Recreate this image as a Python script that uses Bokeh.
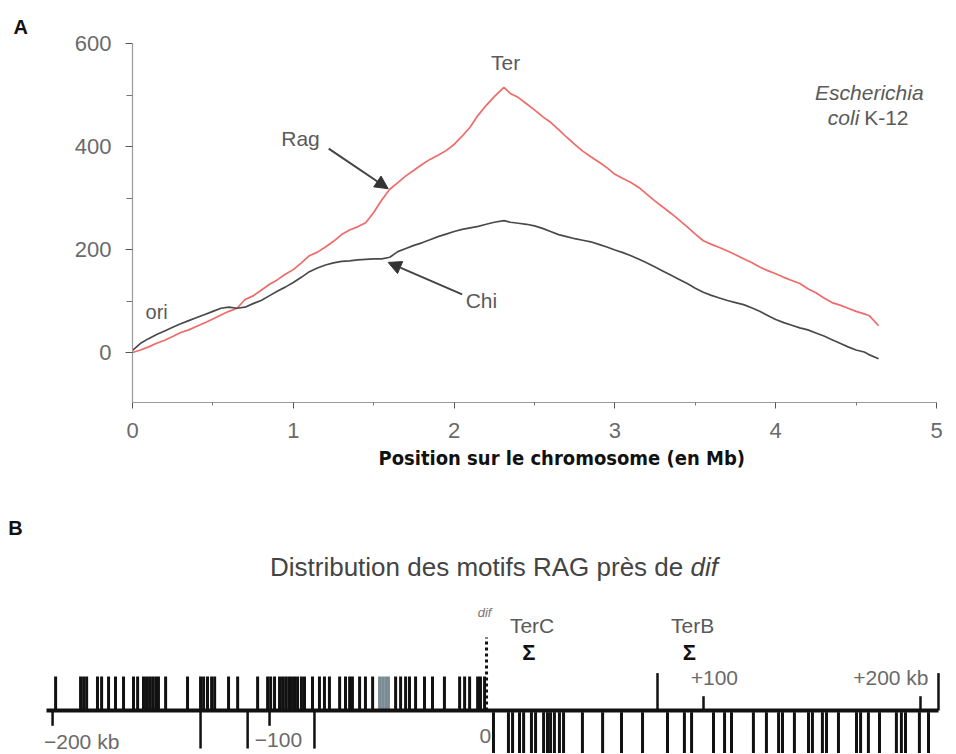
from bokeh.plotting import figure
from bokeh.models import (Range1d, FixedTicker, Label, Arrow, NormalHead,
                          ColumnDataSource, Title)
from bokeh.embed import file_html
from bokeh.resources import INLINE

# ---------------- Panel A data ----------------
pos_mb = [0.00, 0.05, 0.10, 0.15, 0.20, 0.25, 0.30, 0.35, 0.40, 0.45, 0.50, 0.55,
          0.60, 0.65, 0.70, 0.75, 0.80, 0.85, 0.90, 0.95, 1.00, 1.05, 1.10, 1.15,
          1.20, 1.25, 1.30, 1.35, 1.40, 1.45, 1.50, 1.55, 1.60, 1.65, 1.70, 1.75,
          1.80, 1.85, 1.90, 1.95, 2.00, 2.05, 2.10, 2.15, 2.20, 2.25, 2.31, 2.35,
          2.40, 2.45, 2.50, 2.55, 2.60, 2.65, 2.70, 2.75, 2.80, 2.85, 2.90, 2.95,
          3.00, 3.05, 3.10, 3.15, 3.20, 3.25, 3.30, 3.35, 3.40, 3.45, 3.50, 3.55,
          3.60, 3.65, 3.70, 3.75, 3.80, 3.85, 3.90, 3.95, 4.00, 4.05, 4.10, 4.15,
          4.20, 4.25, 4.30, 4.35, 4.40, 4.45, 4.50, 4.55, 4.58, 4.64]
rag = [0, 5, 11, 18, 24, 31, 39, 44, 51, 58, 65, 73,
       80, 86, 103, 110, 121, 132, 141, 152, 161, 174, 188, 195,
       205, 216, 229, 238, 244, 252, 272, 296, 317, 330, 343, 354,
       365, 375, 383, 392, 404, 420, 438, 461, 480, 497, 515, 503,
       495, 483, 471, 458, 447, 433, 418, 404, 391, 380, 370, 359,
       346, 338, 330, 320, 307, 294, 282, 270, 257, 244, 230, 217,
       210, 204, 197, 190, 182, 175, 166, 159, 153, 146, 140, 134,
       124, 116, 106, 97, 92, 86, 80, 75, 72, 52]
chi = [4, 18, 27, 35, 42, 49, 56, 62, 68, 74, 80, 86,
       88, 86, 88, 95, 101, 110, 119, 127, 136, 146, 157, 164,
       170, 174, 177, 178, 180, 181, 182, 182, 185, 196, 202, 208,
       213, 219, 225, 230, 235, 239, 242, 245, 249, 253, 256, 253,
       251, 249, 246, 241, 235, 229, 225, 221, 218, 215, 210, 205,
       199, 194, 188, 181, 174, 166, 158, 150, 142, 134, 125, 117,
       111, 106, 101, 97, 93, 87, 80, 72, 64, 58, 53, 48,
       44, 38, 32, 25, 18, 11, 5, 1, -4, -12]
y_ticks = [0, 200, 400, 600]
y_minor = [100, 300, 500]
x_ticks = [0, 1, 2, 3, 4, 5]
x_minor = [0.5, 1.5, 2.5, 3.5, 4.5]

# ---------------- Panel B data (kb from dif) ----------------
rag_left_kb = [-198.6, -187.1, -185.7, -184.3, -179.3, -177.4, -174.2, -171.0,
               -167.3, -162.7, -160.8, -158.1, -156.7, -155.3, -153.9, -152.5,
               -151.2, -147.9, -137.8, -131.8, -130.4, -128.6, -126.7, -125.3,
               -118.9, -114.7, -105.5, -100.9, -99.5, -97.7, -95.4, -94.0,
               -92.6, -91.2, -89.9, -88.5, -87.1, -85.3, -83.9, -80.2, -77.0,
               -74.7, -72.4, -67.7, -65.0, -63.1, -61.8, -58.5, -55.8, -52.5,
               -41.9, -39.6, -37.3, -35.5, -32.7, -28.6, -24.9, -19.4, -12.4,
               -10.1, -7.8, -4.1, -2.8, -0.9]
rag_left_grey_kb = [-49.3, -47.9, -46.5, -45.2]
rag_right_kb = [3.2, 10.1, 12.0, 15.2, 17.1, 20.7, 22.6, 26.3, 28.1, 29.5, 31.3,
                33.6, 35.5, 44.2, 53.5, 62.2, 71.9, 83.4, 91.2, 94.5, 104.6,
                109.7, 112.9, 123.0, 129.0, 134.6, 136.4, 141.9, 148.4, 150.2,
                154.8, 156.7, 162.2, 170.5, 172.4, 176.0, 181.1, 188.9, 191.2,
                193.1, 199.5, 203.7]
long_down_kb = [-131.8, -110.1, -79.3]
scale_down_kb = [-200, -100]
scale_up_kb = [100, 200]
tall_up_kb = [78.8, 208.3]
ter_sites = ["TerC", "TerB"]
ter_kb = [19.5, 93.5]
line_start_kb, line_end_kb = -202.8, 208.3

FONT = "Liberation Sans"
TXT = "#5a5a5a"

# ================= Panel A =================
pa = figure(width=956, height=488, x_range=Range1d(0, 5), y_range=Range1d(-97, 600),
            output_backend="svg", toolbar_location=None,
            min_border_left=132, min_border_right=20, min_border_top=43,
            min_border_bottom=86)
pa.grid.visible = False
pa.outline_line_color = None

pa.title = Title(text="A", align="left", offset=-119, standoff=12,
                 text_font=FONT, text_font_style="bold", text_font_size="20px",
                 text_color="#111111")

pa.line(pos_mb, rag, line_color="#f06a6a", line_width=1.7)
pa.line(pos_mb, chi, line_color="#4a4a4a", line_width=1.7)

for ax in (pa.xaxis[0], pa.yaxis[0]):
    ax.axis_line_color = "#9a9a9a"
    ax.axis_line_width = 1.2
    ax.major_tick_line_color = "#555555"
    ax.minor_tick_line_color = "#777777"
    ax.major_tick_in = 0
    ax.minor_tick_in = 0
    ax.major_label_text_font = FONT
    ax.major_label_text_font_size = "22px"
    ax.major_label_text_color = "#6a6a6a"

pa.yaxis.ticker = FixedTicker(ticks=y_ticks, minor_ticks=y_minor)
pa.yaxis.major_tick_out = 7
pa.yaxis.minor_tick_out = 6
pa.yaxis.major_label_standoff = 14
pa.xaxis.ticker = FixedTicker(ticks=x_ticks, minor_ticks=x_minor)
pa.xaxis.major_tick_out = 6
pa.xaxis.minor_tick_out = 3
pa.xaxis.major_label_standoff = 14

pa.add_layout(Title(text="Position sur le chromosome (en Mb)", align="left",
                    offset=246, standoff=7,
                    text_font="DejaVu Sans Condensed", text_font_style="bold",
                    text_font_size="20px", text_color="#111111"), "below")

def lab(p, x, y, t, size="21px", style="normal", align="center", color=TXT):
    p.add_layout(Label(x=x, y=y, text=t, text_font=FONT, text_font_size=size,
                       text_font_style=style, text_color=color,
                       text_align=align, text_baseline="middle"))

lab(pa, 1.045, 415, "Rag")
lab(pa, 2.32, 563, "Ter")
lab(pa, 2.17, 101, "Chi")
lab(pa, 0.15, 78, "ori", size="20px")
lab(pa, 4.92, 504, "Escherichia", style="italic", align="right")
lab(pa, 4.52, 457, "coli", style="italic", align="right")
lab(pa, 4.55, 457, "K-12", align="left")

pa.add_layout(Arrow(end=NormalHead(size=13, fill_color="#333333", line_color="#333333"),
                    x_start=1.22, y_start=396, x_end=1.59, y_end=318,
                    line_color="#444444", line_width=2))
pa.add_layout(Arrow(end=NormalHead(size=13, fill_color="#333333", line_color="#333333"),
                    x_start=2.05, y_start=113, x_end=1.59, y_end=175,
                    line_color="#444444", line_width=2))

# ================= Panel B =================
pb = figure(width=956, height=266, x_range=Range1d(-224.0, 216.6),
            y_range=Range1d(-1.294, 6.529), output_backend="svg",
            toolbar_location=None, x_axis_location=None, y_axis_location=None,
            min_border=0)
pb.grid.visible = False
pb.outline_line_color = None

def vsegs(p, xs, y0, y1, color="#111111", w=3):
    src = ColumnDataSource(dict(x=xs, y0=[y0] * len(xs), y1=[y1] * len(xs)))
    p.segment(x0="x", y0="y0", x1="x", y1="y1", source=src, line_color=color,
              line_width=w)

vsegs(pb, rag_left_kb, 0, 1.0)
vsegs(pb, rag_left_grey_kb, 0, 1.0, color="#7b8c96")
vsegs(pb, rag_right_kb, -0.05, -1.25)
vsegs(pb, long_down_kb, 0, -1.12, w=2.5)
vsegs(pb, scale_down_kb, 0, -0.45, w=2.5)
vsegs(pb, scale_up_kb, 0, 0.42, w=2.5)
vsegs(pb, tall_up_kb, 0, 1.1, w=2.5)
pb.segment(x0=[line_start_kb], y0=[0], x1=[line_end_kb], y1=[0],
           line_color="#111111", line_width=4)
pb.segment(x0=[0], y0=[0], x1=[0], y1=[2.15], line_color="#111111",
           line_width=3, line_dash="3 3")

lab(pb, -217.1, 5.38, "B", size="20px", style="bold", color="#111111")
lab(pb, 94.0, 4.21, "Distribution des motifs RAG près de ", size="26px",
    align="right", color="#444444")
lab(pb, 94.0, 4.21, "dif", size="26px", style="italic", align="left", color="#444444")
lab(pb, -0.9, 2.88, "dif", size="13px", style="italic", color="#777777")
for name, k in zip(ter_sites, ter_kb):
    lab(pb, k + 1.5, 2.5, name, size="21px")
    lab(pb, k, 1.7, "Σ", size="22px", style="bold", color="#111111")
lab(pb, 105.0, 0.97, "+100", size="21px", color="#6a6a6a")
lab(pb, 203.7, 0.97, "+200 kb", size="21px", align="right", color="#6a6a6a")
lab(pb, -186.6, -0.9, "−200 kb", size="21px", color="#6a6a6a")
lab(pb, -95.9, -0.88, "−100", size="21px", color="#6a6a6a")
lab(pb, -0.5, -0.74, "0", size="21px", color="#6a6a6a")

open("out.html", "w").write(file_html([pa, pb], INLINE))
